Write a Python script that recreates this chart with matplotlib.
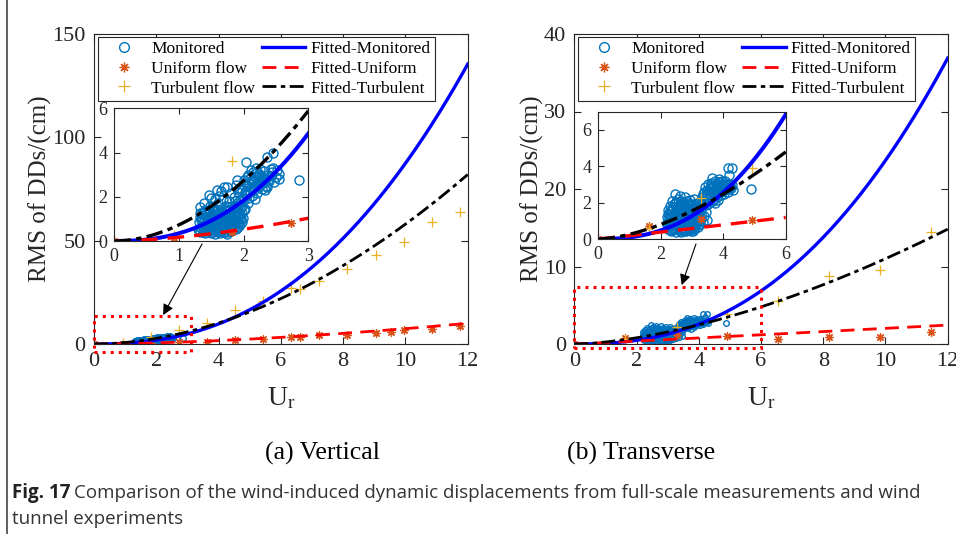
import numpy as np
import matplotlib
matplotlib.use("Agg")
import matplotlib.pyplot as plt
from matplotlib.patches import Rectangle

plt.rcParams['font.family'] = ['Liberation Serif', 'DejaVu Serif']
plt.rcParams['mathtext.fontset'] = 'custom'
plt.rcParams['mathtext.rm'] = 'Liberation Serif'
plt.rcParams['mathtext.it'] = 'Liberation Serif:italic'

# ---------------- data ----------------
# (a) Vertical: wind tunnel tests
vert_uni_x = [0, 0.92, 1.82, 2.73, 3.62, 4.53, 5.44, 6.33, 6.62, 7.24, 8.13, 9.04, 9.53, 9.96, 10.84, 11.75]
vert_uni_y = [0, 0.12, 0.40, 0.80, 1.2, 1.9, 2.3, 3.5, 3.5, 4.2, 4.5, 5.2, 5.8, 6.8, 7.4, 8.7]
vert_tur_x = [0, 0.92, 1.82, 2.73, 3.62, 4.53, 5.44, 6.33, 6.62, 7.24, 8.13, 9.04, 9.96, 10.84, 11.75]
vert_tur_y = [0, 0.25, 3.6, 6.8, 10.0, 16.4, 21.0, 26.9, 26.5, 30.6, 36.4, 43.1, 49.5, 58.9, 64.0]
# (a) Vertical: monitored
vert_mon_x = [1.30, 1.31, 1.32, 1.33, 1.35, 1.36, 1.38, 1.39, 1.40, 1.41, 1.42, 1.43, 1.44, 1.46, 1.47, 1.48,
              1.49, 1.50, 1.51, 1.52, 1.53, 1.54, 1.55, 1.56, 1.57, 1.58, 1.59, 1.60, 1.61, 1.62, 1.63, 1.64,
              1.65, 1.66, 1.67, 1.68, 1.69, 1.70, 1.71, 1.72, 1.73, 1.74, 1.75, 1.76, 1.77, 1.78, 1.79, 1.80,
              1.81, 1.82, 1.83, 1.84, 1.85, 1.86, 1.87, 1.88, 1.89, 1.90, 1.91, 1.92, 1.93, 1.94, 1.95, 1.96,
              1.34, 1.37, 1.45, 1.45, 1.52, 1.58, 1.62, 1.66, 1.70, 1.72, 1.76, 1.80, 1.84, 1.88, 1.90, 1.55,
              1.50, 1.42, 1.35, 1.60, 1.68, 1.74, 1.78, 1.86,
              1.31, 1.34, 1.37, 1.40, 1.43, 1.44, 1.47, 1.49, 1.51, 1.53, 1.54, 1.56, 1.57, 1.59, 1.61, 1.63,
              1.64, 1.65, 1.67, 1.69, 1.71, 1.73, 1.75, 1.77, 1.79, 1.81, 1.83, 1.85, 1.87, 1.89, 1.91, 1.93,
              1.95, 1.97, 1.99, 2.00, 1.98, 1.94, 1.92, 1.86, 1.82, 1.76, 1.71, 1.64, 1.57, 1.52, 1.46, 1.39,
              1.33,
              1.33, 1.38, 1.46, 1.50, 1.55, 1.59, 1.62, 1.65, 1.69, 1.75, 1.80, 1.88, 1.90, 1.93, 1.48,
              1.97, 1.98, 2.00, 2.01, 2.02, 2.03, 2.04, 2.05, 2.06, 2.07, 2.08, 2.09, 2.10, 2.11, 2.12, 2.13,
              2.14, 2.15, 2.16, 2.17, 2.18, 2.19, 2.20, 2.21, 2.22, 2.23, 2.24, 2.25, 2.26, 2.27, 2.28, 2.30,
              2.31, 2.32, 2.34, 2.36, 2.36, 2.38, 2.40, 2.42, 2.44, 2.45, 2.47, 2.50, 2.54, 2.55, 2.85,
              2.05, 2.12, 2.18, 2.24, 2.29, 2.33, 2.37, 2.41, 2.46, 2.52, 2.15, 2.20, 2.08, 2.02, 1.99]
vert_mon_y = [0.55, 0.85, 1.10, 0.40, 0.70, 1.25, 0.95, 0.50, 0.35, 1.40, 0.80, 1.10, 0.60, 0.45, 1.00, 1.30,
              0.75, 0.38, 1.55, 0.90, 1.15, 0.55, 0.30, 1.35, 0.70, 1.05, 0.45, 1.70, 0.85, 1.25, 0.35, 0.60,
              1.45, 1.00, 0.75, 1.90, 0.40, 1.20, 0.55, 1.60, 0.90, 0.32, 1.35, 0.70, 1.05, 1.80, 0.48, 1.25,
              0.85, 0.62, 1.50, 1.05, 2.00, 0.75, 1.30, 0.55, 1.70, 0.95, 1.15, 2.20, 0.70, 1.45, 1.85, 1.00,
              0.60, 0.80, 0.65, 0.90, 0.50, 0.75, 0.50, 0.58, 0.85, 0.45, 0.95, 0.60, 0.80, 1.10, 0.60, 1.00,
              1.15, 1.20, 1.05, 1.10, 1.30, 1.15, 1.40, 1.55,
              0.45, 0.95, 0.42, 0.70, 0.50, 1.30, 0.55, 0.95, 0.65, 0.40, 0.80, 0.55, 1.20, 0.95, 0.40, 0.80,
              1.05, 0.45, 1.15, 0.65, 1.00, 0.60, 0.40, 0.75, 1.10, 0.45, 0.95, 0.60, 0.85, 1.30, 0.80, 1.00,
              0.75, 1.25, 1.05, 1.40, 0.85, 1.20, 1.60, 1.80, 1.60, 1.55, 1.40, 1.30, 1.45, 1.35, 1.30, 1.30,
              1.25,
              1.55, 1.72, 2.08, 1.95, 1.90, 2.30, 2.05, 2.25, 2.46, 2.45, 2.15, 2.55, 2.76, 2.40, 1.60,
              1.60, 2.30, 1.85, 2.75, 1.45, 3.59, 2.10, 2.50, 1.70, 3.00, 2.25, 1.95, 2.85, 3.20, 2.40, 2.05,
              2.65, 3.10, 2.30, 1.90, 2.90, 3.30, 2.55, 2.15, 2.80, 3.05, 2.45, 2.70, 3.25, 2.95, 2.35, 2.60,
              3.15, 2.85, 2.50, 3.82, 2.46, 3.00, 2.70, 3.25, 3.10, 3.97, 2.65, 2.90, 2.79, 3.05, 2.76,
              2.90, 2.70, 2.45, 2.95, 2.75, 2.30, 2.75, 2.95, 3.30, 3.20, 2.40, 3.10, 2.60, 2.20, 1.95]
# (a) fitted power laws  y = a * U^b
vert_fit_mon = (0.348, 2.40)
vert_fit_uni = (0.170, 1.64)
vert_fit_tur = (0.730, 1.90)

# (b) Transverse: wind tunnel tests
tran_uni_x = [0, 1.63, 3.29, 4.92, 6.56, 8.18, 9.82, 11.45]
tran_uni_y = [0, 0.73, 1.10, 1.03, 0.64, 0.95, 0.95, 1.55]
tran_tur_x = [0, 1.63, 3.29, 4.92, 6.56, 8.18, 9.82, 11.45]
tran_tur_y = [0, 0.60, 2.25, 3.90, 5.5, 8.8, 9.6, 14.5]
# (b) Transverse: monitored
tran_mon_x = [2.20, 2.21, 2.22, 2.24, 2.25, 2.27, 2.28, 2.30, 2.31, 2.33, 2.34, 2.35, 2.36, 2.38, 2.40, 2.41,
              2.43, 2.44, 2.46, 2.47, 2.48, 2.50, 2.51, 2.53, 2.54, 2.56, 2.57, 2.59, 2.60, 2.62, 2.63, 2.65,
              2.66, 2.68, 2.70, 2.71, 2.73, 2.75, 2.76, 2.78, 2.79, 2.81, 2.83, 2.85, 2.86, 2.88, 2.90, 2.91,
              2.93, 2.94, 2.96, 2.98, 3.00, 3.01, 3.03, 3.05, 3.07, 3.08, 3.10, 3.12, 3.14, 3.16, 3.18, 3.20,
              3.22, 3.24, 3.26, 3.28, 3.30,
              2.26, 2.32, 2.39, 2.45, 2.52, 2.58, 2.64, 2.69, 2.74, 2.80, 2.87, 2.92, 2.97, 3.02, 3.09, 3.15,
              3.21, 2.42, 2.55, 2.67, 2.84, 3.04, 3.47, 3.40, 3.35, 3.45,
              2.21, 2.23, 2.25, 2.27, 2.29, 2.30, 2.33, 2.35, 2.37, 2.39, 2.41, 2.43, 2.45, 2.47, 2.49, 2.50,
              2.52, 2.54, 2.56, 2.58, 2.60, 2.61, 2.63, 2.65, 2.66, 2.68, 2.70, 2.72, 2.74, 2.76, 2.78, 2.80,
              2.82, 2.84, 2.86, 2.88, 2.90, 2.92, 2.94, 2.96, 2.98, 3.00, 3.02, 3.04, 3.06, 3.08, 3.11, 3.13,
              3.15, 3.17, 3.19, 3.23, 3.25, 3.27, 3.29,
              3.32, 3.35, 3.38, 3.40, 3.42, 3.44, 3.46, 3.48, 3.50, 3.52, 3.54, 3.56, 3.57, 3.60, 3.62, 3.63,
              3.65, 3.67, 3.70, 3.72, 3.74, 3.76, 3.78, 3.80, 3.82, 3.84, 3.86, 3.88, 3.90, 3.93, 3.95, 3.98,
              4.00, 4.03, 4.06, 4.09, 4.12, 4.14, 4.15, 4.19, 4.20, 4.24, 4.27, 4.27, 4.30, 4.89,
              3.36, 3.41, 3.47, 3.53, 3.58, 3.64, 3.69, 3.75, 3.81, 3.87, 3.92, 3.97, 4.02, 4.08, 4.13, 4.18,
              4.22, 3.60, 3.73, 3.85, 3.96, 4.05, 3.50, 3.66]
tran_mon_y = [0.80, 1.20, 1.60, 0.55, 1.00, 1.40, 1.80, 0.70, 1.15, 0.45, 1.55, 2.10, 0.90, 1.30, 1.75, 0.60,
              1.05, 2.00, 2.50, 1.45, 0.40, 0.80, 1.20, 1.65, 2.20, 0.55, 1.00, 1.40, 1.90, 0.70, 2.35, 1.15,
              0.40, 1.60, 2.05, 0.85, 1.30, 0.55, 1.80, 2.33, 1.05, 0.45, 1.50, 0.75, 2.00, 1.20, 0.50, 1.70,
              0.95, 2.13, 1.35, 0.60, 1.85, 1.10, 0.80, 1.55, 2.20, 0.55, 1.25, 1.90, 0.90, 1.45, 0.65, 1.70,
              1.10, 2.05, 0.80, 1.35, 1.60,
              0.65, 0.95, 0.50, 0.70, 0.95, 0.65, 0.90, 0.60, 1.00, 0.70, 0.95, 0.70, 1.10, 0.45, 0.75, 1.10,
              0.85, 1.40, 1.55, 1.35, 1.25, 1.30, 1.04, 1.25, 0.95, 1.50,
              0.90, 1.35, 0.75, 1.10, 1.55, 0.50, 1.25, 0.75, 1.60, 1.10, 1.90, 0.80, 1.25, 0.55, 1.65, 2.05,
              1.40, 0.70, 1.80, 1.15, 0.50, 1.55, 0.95, 2.10, 1.70, 0.80, 1.25, 1.95, 0.45, 1.40, 0.85, 1.65,
              1.15, 2.10, 0.55, 1.45, 0.85, 1.90, 1.20, 0.45, 1.60, 0.75, 1.40, 1.95, 1.00, 1.70, 0.60, 1.40,
              1.75, 1.00, 1.30, 1.45, 1.00, 1.80, 1.10,
              2.30, 1.95, 2.60, 2.10, 2.85, 2.40, 1.85, 2.70, 2.20, 3.00, 2.50, 2.05, 2.80, 2.35, 3.10, 3.34,
              2.60, 2.15, 2.90, 2.45, 1.97, 3.05, 2.70, 2.30, 2.95, 2.16, 2.55, 3.15, 2.80, 2.40, 3.00, 2.65,
              2.90, 2.50, 3.20, 2.75, 2.95, 3.89, 2.60, 3.52, 3.00, 2.80, 3.89, 2.97, 2.70, 2.75,
              2.45, 2.30, 2.55, 2.30, 2.65, 2.85, 2.40, 2.60, 2.60, 2.85, 2.60, 2.85, 2.70, 2.95, 2.75, 2.80,
              2.95, 2.95, 3.20, 3.30, 3.20, 3.05, 1.95, 2.10]
tran_fit_mon = (0.088, 2.43)
tran_fit_uni = (0.184, 1.04)
tran_fit_tur = (0.258, 1.63)

# ---------------- styles ----------------
C_MON = '#0072BD'
C_UNI = '#D95319'
C_TUR = '#EDB120'
TXT = '#262626'
AST = (8, 2, 0)
DASHDOT = (0, (5, 1.6, 1.6, 1.6))
DASHED = (0, (5, 3))

W, H = 956, 534
fig = plt.figure(figsize=(W / 100, H / 100), dpi=100)


def fax(l, t, r, b):
    return fig.add_axes([l / W, 1 - b / H, (r - l) / W, (b - t) / H])


def style_axes(ax, fs):
    ax.tick_params(direction='in', top=True, right=True, labelsize=fs, colors=TXT,
                   length=5, width=0.8, pad=6)
    for s in ax.spines.values():
        s.set_color(TXT)
        s.set_linewidth(0.8)


def draw_data(ax, mon, uni, tur, fits, xmax, ms_mon, lw_scale=1.0, ms=6):
    mx, my = mon
    ux, uy = uni
    tx, ty = tur
    ax.plot(mx, my, 'o', ls='none', mfc='none', mec=C_MON, ms=ms_mon, mew=1.0, label='Monitored')
    ax.plot(ux, uy, marker=AST, ls='none', mec=C_UNI, mfc=C_UNI, ms=ms, mew=0.9, label='Uniform flow')
    ax.plot(tx, ty, marker='+', ls='none', mec=C_TUR, ms=ms + 1, mew=0.9, label='Turbulent flow')
    xx = np.linspace(0, xmax, 300)
    a, b = fits[0]
    ax.plot(xx, a * xx ** b, '-', color='#0000FF', lw=2.4 * lw_scale, label='Fitted-Monitored')
    a, b = fits[1]
    ax.plot(xx, a * xx ** b, color='#FF0000', ls=DASHED, lw=2.0 * lw_scale, label='Fitted-Uniform')
    a, b = fits[2]
    ax.plot(xx, a * xx ** b, color='black', ls=DASHDOT, lw=2.0 * lw_scale, label='Fitted-Turbulent')


def panel(left, right, ymax, yticks, mon, uni, tur, fits, ins_box, ins_xlim, ins_ylim, ins_xt, ins_yt,
          rect, arrow):
    ax = fax(left, 34, right, 344)
    draw_data(ax, mon, uni, tur, fits, 12, 4)
    ax.set_xlim(0, 12)
    ax.set_ylim(0, ymax)
    ax.set_xticks(range(0, 13, 2))
    ax.set_yticks(yticks)
    style_axes(ax, 16)
    ax.set_ylabel('RMS of DDs/(cm)', fontsize=18, color=TXT, labelpad=0)
    ax.set_xlabel(r'$\mathrm{U_r}$', fontsize=20, color=TXT, labelpad=10)
    leg = ax.legend(ncol=2, loc='upper left', bbox_to_anchor=(0.011, 0.991), borderaxespad=0,
                    fontsize=12.5, frameon=True, fancybox=False, edgecolor=TXT, framealpha=1,
                    handlelength=2.5, handletextpad=0.3, columnspacing=0.4, labelspacing=0.2,
                    borderpad=0.25)
    leg.get_frame().set_linewidth(0.8)
    hs = leg.legend_handles
    hs[0].set_markersize(7)
    hs[1].set_markersize(7)
    hs[2].set_markersize(8)
    for t in leg.get_texts():
        t.set_color('black')
    # zoom rectangle
    rx0, rx1, ry0, ry1 = rect
    ax.add_patch(Rectangle((rx0, ry0), rx1 - rx0, ry1 - ry0, fill=False, ec='#FF0000', ls=':',
                           lw=2.2, clip_on=False, zorder=5))
    (sx, sy), (ex, ey) = arrow
    ax.annotate('', xy=(ex, ey), xytext=(sx, sy),
                arrowprops=dict(arrowstyle='-|>', color='black', lw=0.8, mutation_scale=16,
                                shrinkA=0, shrinkB=0), annotation_clip=False)
    # inset
    ins = fax(*ins_box)
    draw_data(ins, mon, uni, tur, fits, ins_xlim[1], 6.5, 1.2, 6)
    ins.set_xlim(*ins_xlim)
    ins.set_ylim(*ins_ylim)
    ins.set_xticks(ins_xt)
    ins.set_yticks(ins_yt)
    style_axes(ins, 13)
    ins.tick_params(length=4, pad=5)
    return ax


panel(94, 467.7, 150, [0, 50, 100, 150],
      (vert_mon_x, vert_mon_y), (vert_uni_x, vert_uni_y), (vert_tur_x, vert_tur_y),
      (vert_fit_mon, vert_fit_uni, vert_fit_tur),
      (114.3, 108.3, 308.3, 241), (0, 3), (0, 6), [0, 1, 2, 3], [0, 2, 4, 6],
      (0, 3.1, -3.7, 13.5), ((3.47, 48.4), (2.22, 14.0)))

panel(574.3, 947.7, 40, [0, 10, 20, 30, 40],
      (tran_mon_x, tran_mon_y), (tran_uni_x, tran_uni_y), (tran_tur_x, tran_tur_y),
      (tran_fit_mon, tran_fit_uni, tran_fit_tur),
      (598.3, 111.7, 785.7, 239), (0, 6), (0, 7), [0, 2, 4, 6], [0, 2, 4, 6],
      (0, 6.0, -0.56, 7.4), ((3.91, 12.9), (3.45, 7.6)))

# sub captions
fig.text(322 / W, 1 - 453 / H, '(a) Vertical', ha='center', va='center', fontsize=18.5, color='black')
fig.text(641 / W, 1 - 453 / H, '(b) Transverse', ha='center', va='center', fontsize=18.5, color='black')

# figure caption
CAP_FONT = ['Open Sans', 'DejaVu Sans']
cap_y1 = 1 - 493 / H
cap_y2 = 1 - 519 / H
t1 = fig.text(12 / W, cap_y1, 'Fig. 17', ha='left', va='center', fontsize=13.5, fontweight='bold',
              family=CAP_FONT, color='#222222')
fig.canvas.draw()
bb = t1.get_window_extent()
fig.text((bb.x1 + 4) / W, cap_y1,
         'Comparison of the wind-induced dynamic displacements from full-scale measurements and wind',
         ha='left', va='center', fontsize=13.5, family=CAP_FONT, color='#333333')
fig.text(12 / W, cap_y2, 'tunnel experiments', ha='left', va='center', fontsize=13.5,
         family=CAP_FONT, color='#333333')

# left border line of the page
fig.add_artist(plt.Line2D([7 / W, 7 / W], [0, 1], color='#444444', lw=1.2, transform=fig.transFigure))

fig.savefig('out.png', dpi=100)
